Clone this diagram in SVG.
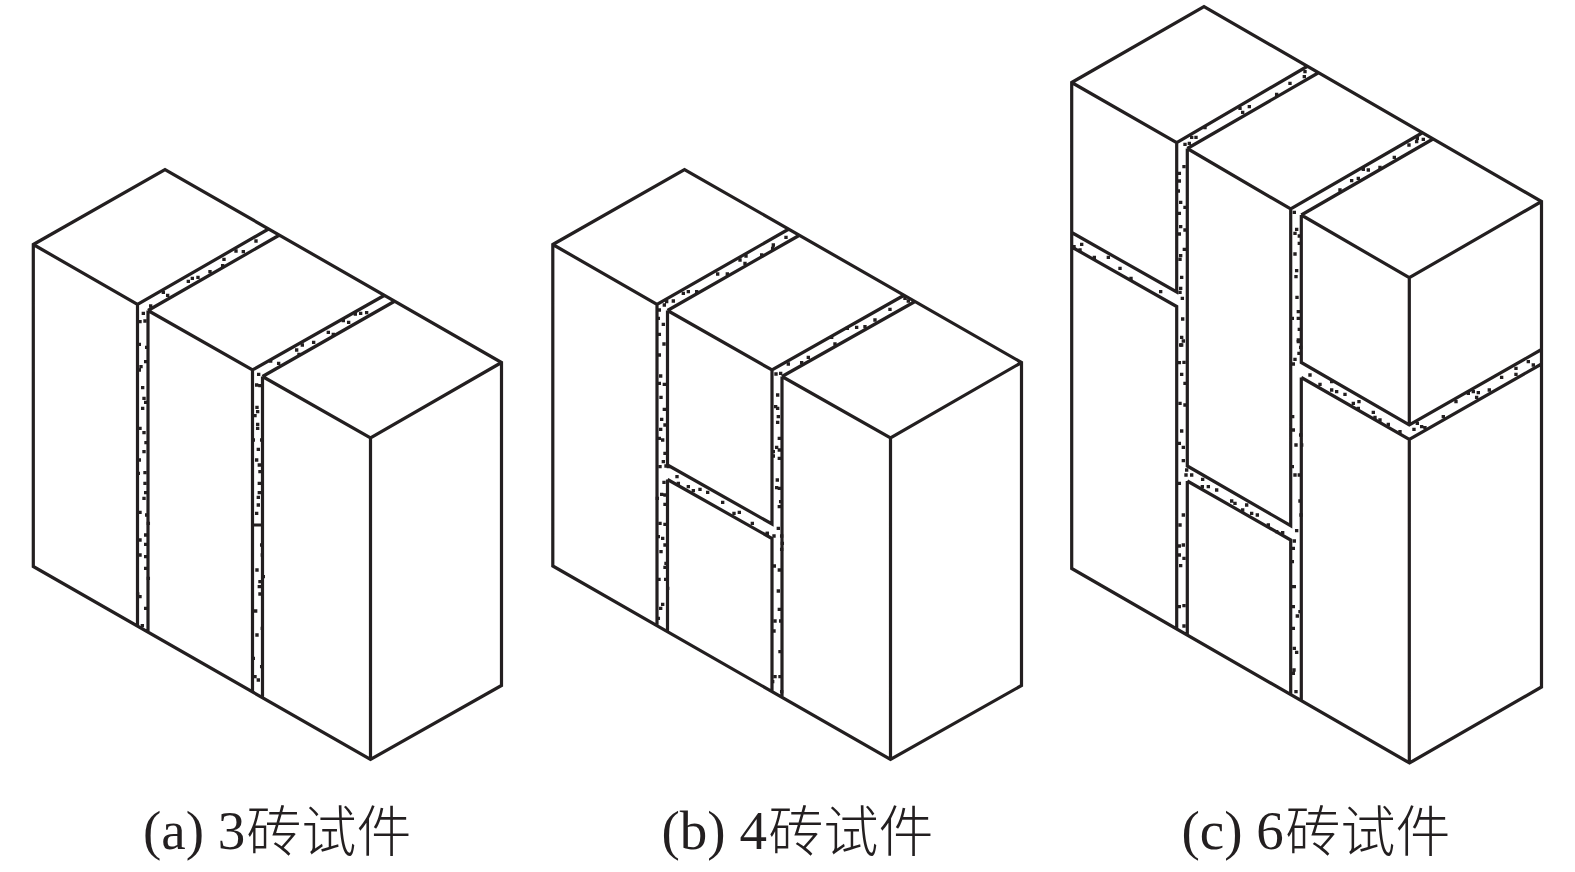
<svg xmlns="http://www.w3.org/2000/svg" width="1575" height="872" viewBox="0 0 1575 872">
<style>
.e{fill:none;stroke:#231f20;stroke-width:3.2;stroke-linejoin:miter;stroke-linecap:butt}
.d{fill:none;stroke:#231f20;stroke-width:10;stroke-linecap:square}
.t{font-family:"Liberation Serif","Noto Sans CJK SC",serif;font-size:55px;fill:#231f20}
.c{font-family:"Noto Sans CJK SC","Liberation Serif",serif;font-weight:300;font-size:55px}
</style>
<rect width="1575" height="872" fill="#fff"/>
<g id="specimen-a">
<path class="e" d="M33.3 244.500L165 169.500L501.500 362.500V685.500L370.500 759.500L33.3 566.500ZM33.3 244.500L137.500 304.500L268.500 229M137.500 304.500V625.500M148 310.500L279.500 235M148 310.500V631.500M148 310.500L252.500 370L385 295M252.500 370V691.500M262.500 376.500L395 301M262.500 376.500V697.500M262.500 376.500L370.500 438L501.500 362.500M370.500 438V759.500M252.500 525H262.500"/>
<path class="d" transform="translate(0 150) scale(.3333)" d="M768 273h.1M730 305h.1M708 303h.1M672 328h.1M668 347h.1M630 365h.1M594 382h.1M577 385h.1M565 394h.1M490 427h.1M503 436h.1M452 468h.1M430 490h.1M420 515h.1M435 513h.1M418 583h.1M440 592h.1M437 635h.1M423 650h.1M418 660h.1M428 713h.1M432 745h.1M437 757h.1M428 775h.1M420 835h.1M432 848h.1M438 878h.1M1100 488h.1M1082 490h.1M1066 492h.1M1046 517h.1M1030 512h.1M985 547h.1M1000 553h.1M941 577h.1M907 585h.1M890 600h.1M897 613h.1M836 640h.1M812 633h.1M776 673h.1M770 705h.1M780 707h.1M771 772h.1M773 785h.1M765 797h.1M773 823h.1M773 835h.1M760 870h.1M785 870h.1M775 898h.1"/>
<path class="d" transform="translate(0 450) scale(.3333)" d="M432 5h.1M418 30h.1M435 68h.1M415 70h.1M435 100h.1M437 128h.1M432 145h.1M420 187h.1M440 195h.1M445 220h.1M437 255h.1M420 270h.1M437 283h.1M420 315h.1M437 320h.1M437 355h.1M445 385h.1M420 440h.1M413 432h.1M437 475h.1M427 527h.1M770 30h.1M778 45h.1M780 65h.1M778 100h.1M778 128h.1M775 142h.1M775 165h.1M770 190h.1M785 285h.1M787 315h.1M771 360h.1M790 380h.1M780 395h.1M778 410h.1M780 432h.1M767 483h.1M787 535h.1M771 555h.1M760 625h.1M785 650h.1M765 680h.1M775 690h.1"/>
<text class="t" x="143" y="848.500">(a) 3<tspan class="c" x="246.500" dy="2">砖试件</tspan></text>
</g>
<g id="specimen-b">
<path class="e" d="M552.800 244.500L684.500 169.500L1021.500 362.500V685.500L890.500 759.500L552.800 566ZM552.800 244.500L657 304.500L788 229.500M657 304.500V625.500M667.500 310.500L799 235.500M667.500 310.500L772 370L904.500 295M772 370V524L667.500 465V310.500M667.500 479.500L772 538.500V691.500M667.500 479.500V631.500M782 376.500L915 301.500M782 376.500V697.500M782 376.500L890.500 438L1021.500 362.500M890.500 438V759.500"/>
<path class="d" transform="translate(540 220) scale(.3333)" d="M738 52h.1M700 75h.1M698 85h.1M665 105h.1M618 108h.1M600 120h.1M615 130h.1M562 162h.1M533 162h.1M470 215h.1M445 215h.1M430 220h.1M400 243h.1M380 245h.1M373 255h.1M358 270h.1M355 295h.1M370 313h.1M358 343h.1M372 372h.1M358 405h.1M362 468h.1M358 490h.1M373 493h.1M363 532h.1M373 568h.1M365 598h.1M375 615h.1M362 628h.1M358 655h.1M368 660h.1M375 700h.1M370 725h.1M360 740h.1M378 738h.1M385 740h.1M372 787h.1M365 823h.1M375 825h.1M352 835h.1M375 853h.1M360 910h.1M375 913h.1M411 770h.1M415 790h.1M445 800h.1M460 812h.1M480 808h.1M503 817h.1M548 847h.1M598 877h.1M582 880h.1M637 910h.1M682 940h.1M1105 243h.1M1095 235h.1M1050 268h.1M1005 300h.1M975 320h.1M950 322h.1M922 325h.1M875 352h.1M885 372h.1M805 412h.1M785 428h.1M745 432h.1M722 460h.1M708 462h.1M713 525h.1M707 560h.1M713 565h.1M715 590h.1M713 607h.1M718 655h.1M710 682h.1M718 690h.1M700 695h.1M700 708h.1M718 715h.1M712 780h.1M710 803h.1M718 805h.1M722 845h.1M718 860h.1M715 925h.1"/>
<path class="d" transform="translate(620 530) scale(.3333)" d="M115 20h.1M128 25h.1M135 45h.1M123 65h.1M138 100h.1M135 112h.1M117 148h.1M137 148h.1M143 175h.1M128 223h.1M122 235h.1M115 265h.1M442 10h.1M462 18h.1M485 18h.1M487 40h.1M485 58h.1M463 108h.1M478 120h.1M475 183h.1M478 238h.1M465 273h.1M482 273h.1M462 303h.1M480 365h.1M465 440h.1M480 440h.1M458 455h.1M485 485h.1"/>
<text class="t" x="661.500" y="848.500">(b) 4<tspan class="c" x="768.500" dy="2">砖试件</tspan></text>
</g>
<g id="specimen-c">
<path class="e" d="M1071.700 82.500L1204 6.500L1541.500 201.500V687L1409.500 763L1071.700 568.500ZM1071.700 82.500L1176.700 142.700L1307 66.500M1176.700 142.700V292L1071.700 232.500M1071.700 247L1176.700 306.500V628.500M1187.300 148.500L1318 73M1187.300 148.500V466L1290.700 525.700V209M1187.300 148.500L1290.700 209L1422 133M1187.300 481L1290.700 540V694.500M1187.300 481V634.500M1301.300 215L1433 139M1301.300 215V362.500L1409.300 425L1541.500 349.500M1301.300 215L1409.300 277.700L1541.500 201.500M1409.300 277.700V425M1301.300 377.500L1409.300 439.500L1541.500 364M1301.300 377.500V700.500M1409.300 439.500V763"/>
<path class="d" transform="translate(1060 50) scale(.3333)" d="M735 65h.1M733 80h.1M690 100h.1M650 133h.1M568 170h.1M540 175h.1M548 187h.1M435 233h.1M408 262h.1M395 262h.1M375 283h.1M388 280h.1M372 350h.1M358 370h.1M358 393h.1M355 423h.1M362 457h.1M375 472h.1M358 490h.1M362 530h.1M358 552h.1M375 540h.1M373 598h.1M362 617h.1M360 628h.1M365 682h.1M362 715h.1M360 727h.1M367 745h.1M368 807h.1M365 862h.1M370 873h.1M362 885h.1M65 583h.1M42 590h.1M60 600h.1M103 622h.1M145 622h.1M180 655h.1M213 685h.1M302 725h.1M1090 268h.1M1072 265h.1M1070 275h.1M1047 285h.1M1003 322h.1M960 352h.1M925 360h.1M910 358h.1M895 385h.1M875 392h.1M840 420h.1M703 487h.1M710 538h.1M705 550h.1M718 558h.1M718 580h.1M705 612h.1M710 662h.1M708 680h.1M711 742h.1M715 785h.1M697 805h.1M715 805h.1M718 838h.1M715 870h.1M722 892h.1"/>
<path class="d" transform="translate(1060 340) scale(.3333)" d="M365 15h.1M372 67h.1M358 68h.1M365 103h.1M375 130h.1M360 190h.1M375 195h.1M365 273h.1M358 310h.1M370 322h.1M370 362h.1M380 390h.1M378 405h.1M358 430h.1M370 525h.1M360 555h.1M370 615h.1M358 618h.1M358 645h.1M372 655h.1M362 677h.1M372 797h.1M358 800h.1M372 858h.1M395 405h.1M428 418h.1M445 440h.1M427 440h.1M470 450h.1M515 483h.1M525 490h.1M560 495h.1M548 510h.1M575 520h.1M592 525h.1M625 555h.1M650 575h.1M668 578h.1M715 5h.1M717 40h.1M705 58h.1M700 72h.1M698 230h.1M700 270h.1M722 285h.1M708 315h.1M725 315h.1M697 380h.1M705 405h.1M718 405h.1M720 483h.1M723 525h.1M710 572h.1M703 603h.1M700 625h.1M697 665h.1M703 740h.1M698 740h.1M700 800h.1M720 815h.1M712 828h.1M700 865h.1M703 925h.1M710 937h.1M702 990h.1M700 1000h.1M708 1055h.1M750 105h.1M780 133h.1M815 125h.1M815 150h.1M830 155h.1M855 163h.1M880 190h.1M897 185h.1M895 205h.1M940 217h.1M945 232h.1M960 240h.1M985 253h.1M1020 275h.1M1062 268h.1M1072 250h.1M1085 260h.1M1095 263h.1M1150 230h.1M1188 185h.1M1225 160h.1M1240 155h.1M1255 158h.1M1250 172h.1M1288 150h.1M1325 112h.1M1368 85h.1M1368 103h.1M1405 65h.1M1420 75h.1"/>
<text class="t" x="1181.500" y="848.500">(c) 6<tspan class="c" x="1285.500" dy="2">砖试件</tspan></text>
</g>
</svg>
